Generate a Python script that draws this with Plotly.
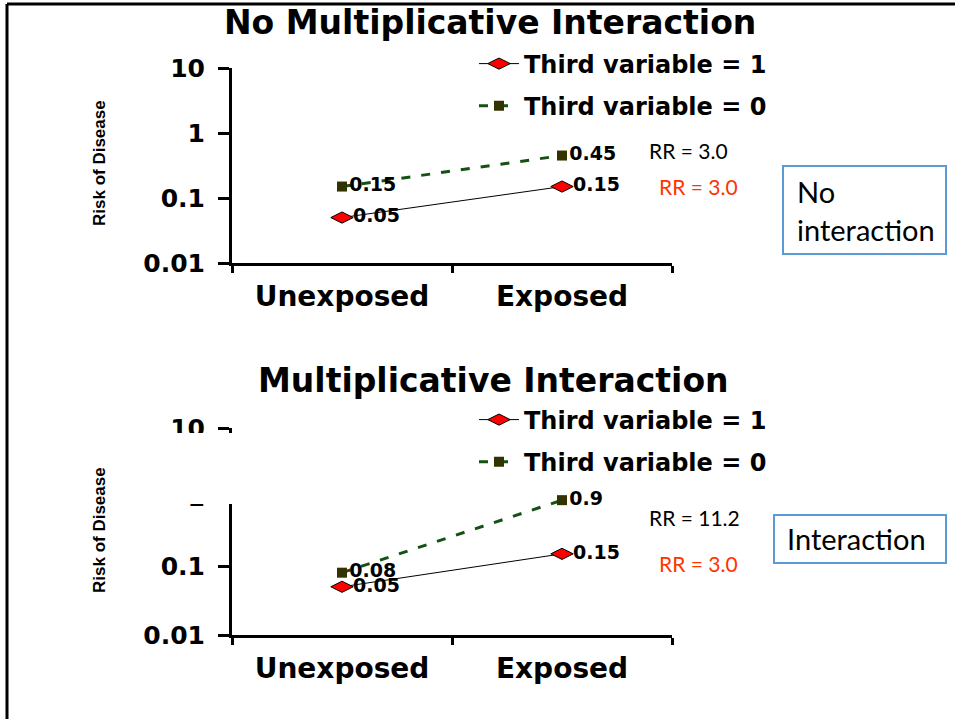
import plotly.graph_objects as go

# ---- data ----
categories = ["Unexposed", "Exposed"]
top_third1 = [0.05, 0.15]
top_third0 = [0.15, 0.45]
bot_third1 = [0.05, 0.15]
bot_third0 = [0.08, 0.9]
series_names = ["Third variable = 1", "Third variable = 0"]
titles = ["No Multiplicative Interaction", "Multiplicative Interaction"]
ytick_vals = [0.01, 0.1, 1, 10]
ytick_text = ["0.01", "0.1", "1", "10"]
rr_top = ["RR = 3.0", "RR = 3.0"]      # third var = 0, third var = 1
rr_bot = ["RR = 11.2", "RR = 3.0"]
box_labels = ["No<br>interaction", "Interaction"]
y_title = "Risk of Disease"

W, H = 955, 719
def px(x): return x / W
def py(y): return 1 - y / H

BOLD = "DejaVu Sans"
RED = "#ff0000"
GREEN = "#145214"
OLIVE = "#333300"
RRRED = "#ff3300"
BLUE = "#5b9bd5"

fig = go.Figure()

def add_pair(xa, ya, v1, v0, leg):
    fig.add_trace(go.Scatter(
        x=categories, y=v1, name=series_names[0], xaxis=xa, yaxis=ya, legend=leg,
        mode="lines+markers+text", legendgroup="a" + leg,
        line=dict(color="black", width=1),
        marker=dict(symbol="diamond-wide", size=16, color=RED, line=dict(color="black", width=1)),
        text=[f"{v:g}" for v in v1], textposition="middle right",
        textfont=dict(family=BOLD, size=19, color="black", weight="bold"),
    ))
    fig.add_trace(go.Scatter(
        x=categories, y=v0, name=series_names[1], xaxis=xa, yaxis=ya, legend=leg,
        mode="lines+markers+text", legendgroup="b" + leg,
        line=dict(color=GREEN, width=3, dash="9px,11px"),
        marker=dict(symbol="square", size=10, color=OLIVE),
        text=[f"{v:g}" for v in v0], textposition="middle right",
        textfont=dict(family=BOLD, size=19, color="black", weight="bold"),
    ))

add_pair("x", "y", top_third1, top_third0, "legend")
add_pair("x2", "y2", bot_third1, bot_third0, "legend2")

xcommon = dict(type="category", range=[-0.5, 1.5], tickson="boundaries", automargin=False,
               showline=True, linecolor="black", linewidth=3, ticks="outside",
               ticklen=7, tickwidth=3, tickcolor="black", showgrid=False, zeroline=False,
               tickfont=dict(family=BOLD, size=28, color="black", weight="bold"),
               ticklabelstandoff=6, domain=[px(232), px(672)])
ycommon = dict(type="log", range=[-2, 1], tickvals=ytick_vals, ticktext=ytick_text, automargin=False,
               showline=True, linecolor="black", linewidth=3, ticks="outside",
               ticklen=11, tickwidth=3, tickcolor="black", showgrid=False, zeroline=False,
               tickfont=dict(family=BOLD, size=25, color="black", weight="bold"),
               ticklabelstandoff=8)

legcommon = dict(font=dict(family=BOLD, size=24, color="black", weight="bold"),
                 bgcolor="rgba(0,0,0,0)", borderwidth=0, tracegroupgap=8,
                 xanchor="left", yanchor="middle", itemwidth=40)

fig.update_layout(
    template="none",
    width=W, height=H, margin=dict(l=0, r=0, t=0, b=0, pad=0, autoexpand=False),
    paper_bgcolor="white", plot_bgcolor="white",
    xaxis=dict(xcommon, anchor="y"),
    yaxis=dict(ycommon, anchor="x", domain=[py(263), py(68)]),
    xaxis2=dict(xcommon, anchor="y2"),
    yaxis2=dict(ycommon, anchor="x2", domain=[py(635), py(428)]),
    legend=dict(legcommon, x=px(474), y=py(85)),
    legend2=dict(legcommon, x=px(474), y=py(441)),
    showlegend=True,
)

def A(text, x, y, size, color="black", family=BOLD, weight="bold", xanchor="center", **kw):
    return dict(text=text, x=px(x), y=py(y), xref="paper", yref="paper", showarrow=False,
                xanchor=xanchor, yanchor="middle",
                font=dict(family=family, size=size, color=color, weight=weight), **kw)

ann = [
    A(titles[0], 490, 22, 33),
    A(titles[1], 494, 380, 33),
    A(y_title, 99, 163, 17, family="Liberation Sans", textangle=-90),
    A(y_title, 99, 530, 17, family="Liberation Sans", textangle=-90),
    A(rr_top[0], 647, 150, 21, family="Lato", weight="normal", xanchor="left"),
    A(rr_top[1], 657, 186, 21, color=RRRED, family="Lato", weight="normal", xanchor="left"),
    A(rr_bot[0], 647, 517, 21, family="Lato", weight="normal", xanchor="left"),
    A(rr_bot[1], 657, 563, 21, color=RRRED, family="Lato", weight="normal", xanchor="left"),
    A(box_labels[0], 795, 210, 29, family="Lato", weight="normal", xanchor="left", align="left"),
    A(box_labels[1], 785, 538, 29, family="Lato", weight="normal", xanchor="left", align="left"),
]
fig.update_layout(annotations=ann)

shapes = [
    # frame (top and left edges)
    dict(type="line", xref="paper", yref="paper", x0=px(7), x1=1, y0=py(4), y1=py(4),
         line=dict(color="black", width=3), layer="above"),
    dict(type="line", xref="paper", yref="paper", x0=px(7), x1=px(7), y0=py(4), y1=0,
         line=dict(color="black", width=3), layer="above"),
    # text boxes
    dict(type="rect", xref="paper", yref="paper", x0=px(783), x1=px(946), y0=py(254), y1=py(166),
         line=dict(color=BLUE, width=2), layer="below"),
    dict(type="rect", xref="paper", yref="paper", x0=px(774), x1=px(946), y0=py(563), y1=py(515),
         line=dict(color=BLUE, width=2), layer="below"),
    # white patch hiding part of the lower axis
    dict(type="rect", xref="paper", yref="paper", x0=px(140), x1=px(245), y0=py(504), y1=py(433),
         line=dict(width=0), fillcolor="white", layer="above"),
]
fig.update_layout(shapes=shapes)

fig.write_html("out.html", config={"displayModeBar": False},
               post_script="document.body.style.margin='0';document.body.style.padding='0';")
